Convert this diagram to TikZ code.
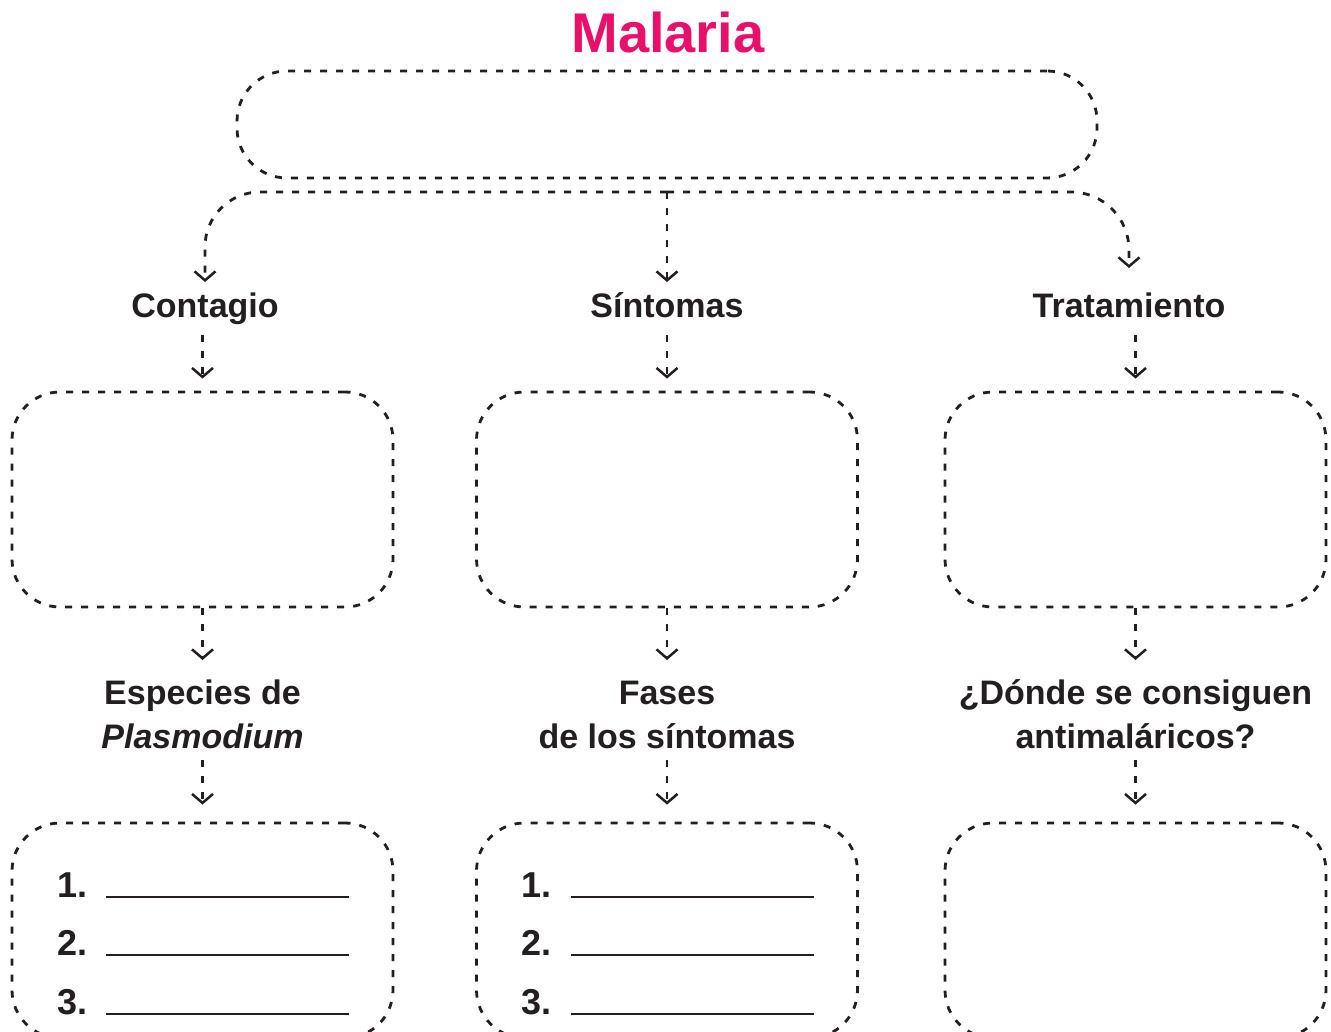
\documentclass[tikz,border=0pt]{standalone}
\usepackage{fontspec}
\setmainfont{Liberation Sans}
\usetikzlibrary{arrows.meta,calc}
\definecolor{malpink}{RGB}{232,16,106}
\definecolor{ink}{RGB}{35,31,32}
\begin{document}
\begin{tikzpicture}[x=1pt,y=-1pt,
  dotline/.style={draw=ink, line width=2.8pt, dash pattern=on 7pt off 9pt},
  box/.style={dotline, rounded corners=48pt, minimum width=381pt, minimum height=215pt, inner sep=0pt},
  conn/.style={dotline, -{Straight Barb[length=9pt,width=21pt,line width=2.5pt]}},
  lbl/.style={font=\fontsize{34}{44}\selectfont\bfseries, text=ink, inner sep=0pt, anchor=base},
  num/.style={font=\fontsize{36}{36}\selectfont\bfseries, text=ink, anchor=base west, inner sep=0pt},
  blank/.style={draw=ink, line width=1.8pt}]
\useasboundingbox (0,0) rectangle (1331,1032);
\clip (0,0) rectangle (1331,1032);

% title and top box
\node[anchor=base, font=\fontsize{56}{56}\selectfont\bfseries, text=malpink, inner sep=0pt] (title) at (668,53) {Malaria};
\node[dotline, rounded corners=50pt, minimum width=860pt, minimum height=107pt, inner sep=0pt] (top) at (667,124.5) {};

% branching connector
\coordinate (hub) at (667,192);
\coordinate (t1) at (205,282);
\coordinate (t2) at (667,282);
\coordinate (t3) at (1129,268);
\draw[conn, rounded corners=55pt] (hub) -| (t1);
\draw[conn] (hub) -- (t2);
\draw[conn, rounded corners=58pt] (hub) -| (t3);

% first-level labels
\node[lbl] (l1) at (205,318) {Contagio};
\node[lbl] (l2) at (667,318) {Síntomas};
\node[lbl] (l3) at (1129,318) {Tratamiento};

% middle boxes
\node[box] (b1) at (202.5,499.5) {};
\node[box] (b2) at (667,499.5) {};
\node[box] (b3) at (1135.5,499.5) {};

\foreach \i in {1,2,3}{
  \draw[conn] ($(l\i.base -| b\i.north)+(0,17)$) -- ($(b\i.north)+(0,-12)$);
}

% second-level labels
\node[lbl] (m1a) at (202.5,704) {Especies de};
\node[lbl] (m1b) at (202.5,748) {\itshape Plasmodium};
\node[lbl] (m2a) at (667,704) {Fases};
\node[lbl] (m2b) at (667,748) {de los síntomas};
\node[lbl] (m3a) at (1135.5,704) {¿Dónde se consiguen};
\node[lbl] (m3b) at (1135.5,748) {antimaláricos?};

% bottom boxes
\node[box] (c1) at (202.5,930.5) {};
\node[box] (c2) at (667,930.5) {};
\node[box] (c3) at (1135.5,930.5) {};

\foreach \i in {1,2,3}{
  \draw[conn] (b\i.south) -- ($(m\i a.base -| b\i.south)+(0,-44)$);
  \draw[conn] ($(m\i b.base -| c\i.north)+(0,12)$) -- ($(c\i.north)+(0,-17)$);
}

% numbered blanks
\foreach \b in {c1,c2}{
  \foreach \k/\dy in {1/-33.5,2/24.5,3/83.5}{
    \node[num] (\b n\k) at ($(\b.center)+(-145.5,\dy)$) {\k.};
    \draw[blank] ($(\b.center)+(-96.5,\dy)$) -- ($(\b.center)+(146.5,\dy)$);
  }
}
\end{tikzpicture}
\end{document}
